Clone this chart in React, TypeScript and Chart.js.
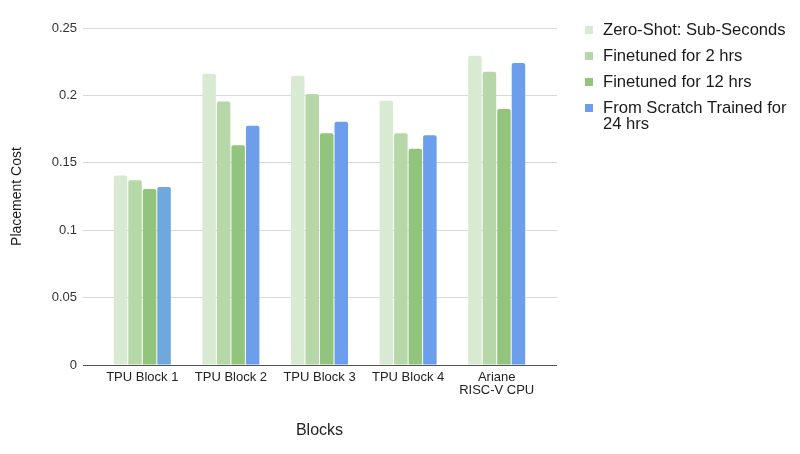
import { useEffect, useRef } from "react";
import { Chart, registerables } from "chart.js";

Chart.register(...registerables);

const categories: (string | string[])[] = [
  "TPU Block 1",
  "TPU Block 2",
  "TPU Block 3",
  "TPU Block 4",
  ["Ariane", "RISC-V CPU"],
];
const seriesNames = [
  "Zero-Shot: Sub-Seconds",
  "Finetuned for 2 hrs",
  "Finetuned for 12 hrs",
  "From Scratch Trained for 24 hrs",
];
const zeroShot = [0.1405, 0.216, 0.2145, 0.196, 0.2295];
const finetuned2h = [0.137, 0.1955, 0.201, 0.172, 0.2175];
const finetuned12h = [0.1305, 0.163, 0.172, 0.1605, 0.19];
const fromScratch = [0.132, 0.1775, 0.1805, 0.1705, 0.224];
const yTickLabels = ["0", "0.05", "0.1", "0.15", "0.2", "0.25"];

const seriesColors = ["#d9ead3", "#b6d7a8", "#93c47d", "#6d9eeb"];
const scratchBarColors = ["#6fa8dc", "#6d9eeb", "#6d9eeb", "#6d9eeb", "#6d9eeb"];

const FONT = "'Liberation Sans', Arial, Helvetica, sans-serif";

export default function App() {
  const canvasRef = useRef<HTMLCanvasElement | null>(null);

  useEffect(() => {
    if (!canvasRef.current) return;
    const gridColor = (ctx: any) =>
      ctx.tick && ctx.tick.value === 0 ? "#555555" : "#d9d9d9";
    const common = {
      borderRadius: 2,
      borderSkipped: "start" as const,
      categoryPercentage: 0.655,
      barPercentage: 0.93,
    };
    const chart = new Chart(canvasRef.current, {
      type: "bar",
      data: {
        labels: categories,
        datasets: [
          { label: seriesNames[0], data: zeroShot, backgroundColor: seriesColors[0], ...common },
          { label: seriesNames[1], data: finetuned2h, backgroundColor: seriesColors[1], ...common },
          { label: seriesNames[2], data: finetuned12h, backgroundColor: seriesColors[2], ...common },
          { label: seriesNames[3], data: fromScratch, backgroundColor: scratchBarColors, ...common },
        ],
      },
      options: {
        animation: false,
        responsive: false,
        maintainAspectRatio: false,
        layout: { padding: { top: 28, right: 243, left: 0, bottom: 0 } },
        plugins: {
          legend: { display: false },
          tooltip: { enabled: false },
        },
        scales: {
          x: {
            grid: { display: false, drawTicks: false },
            border: { display: true, color: "#555555", width: 1 },
            ticks: {
              color: "#222222",
              font: { family: FONT, size: 13, lineHeight: 1.0 },
              padding: 6,
              maxRotation: 0,
              autoSkip: false,
            },
            title: {
              display: true,
              text: "Blocks",
              color: "#222222",
              font: { family: FONT, size: 16 },
              padding: { top: 0, bottom: 14 },
            },
            afterFit: (scale: any) => {
              scale.height = 89;
            },
          },
          y: {
            min: 0,
            max: 0.25,
            ticks: {
              stepSize: 0.05,
              color: "#333333",
              font: { family: FONT, size: 13 },
              padding: 6,
              callback: (_v: any, i: number) => yTickLabels[i],
            },
            grid: {
              color: gridColor,
              tickColor: gridColor,
              tickLength: 15,
              drawTicks: true,
            },
            border: { display: false },
            title: {
              display: true,
              text: "Placement Cost",
              color: "#1a1a1a",
              font: { family: FONT, size: 14 },
              padding: { top: 9, bottom: 0 },
            },
            afterFit: (scale: any) => {
              scale.width = 98;
            },
          },
          y2: {
            position: "right",
            min: 0,
            max: 0.25,
            ticks: { display: false, stepSize: 0.05 },
            grid: {
              drawOnChartArea: false,
              color: gridColor,
              tickColor: gridColor,
              tickLength: 16,
              drawTicks: true,
            },
            border: { display: false },
            afterFit: (scale: any) => {
              scale.width = 16;
            },
          },
        },
      },
    } as any);
    return () => chart.destroy();
  }, []);

  const legendColors = seriesColors;

  return (
    <div
      style={{
        position: "fixed",
        left: 0,
        top: 0,
        width: 800,
        height: 454,
        background: "#ffffff",
        fontFamily: FONT,
      }}
    >
      <canvas
        ref={canvasRef}
        width={800}
        height={454}
        style={{ position: "absolute", left: 0, top: 0, width: 800, height: 454 }}
      />
      <div style={{ position: "absolute", left: 585, top: 22, width: 210 }}>
        {seriesNames.map((name, i) => (
          <div
            key={name}
            style={{ display: "flex", alignItems: "flex-start", marginBottom: 10 }}
          >
            <div
              style={{
                width: 8,
                height: 8,
                marginTop: 4,
                background: legendColors[i],
                flex: "0 0 auto",
              }}
            />
            <div
              style={{
                marginLeft: 10,
                width: 192,
                fontSize: 16.6,
                lineHeight: "16px",
                color: "#1a1a1a",
              }}
            >
              {name}
            </div>
          </div>
        ))}
      </div>
    </div>
  );
}
